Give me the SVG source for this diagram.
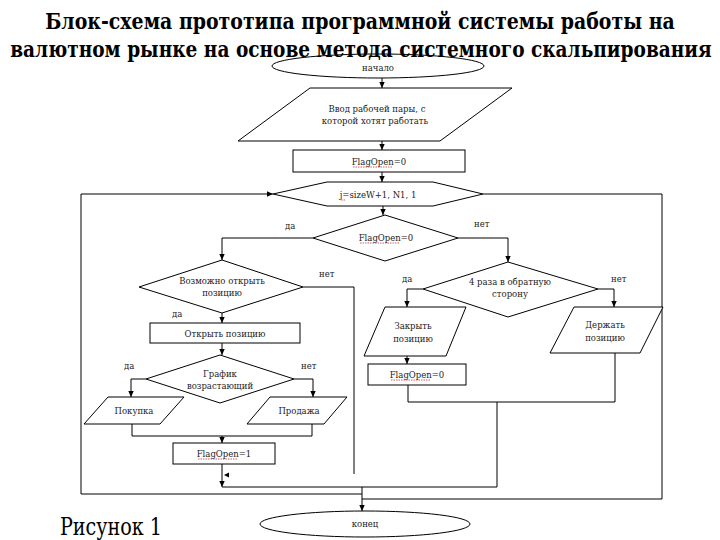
<svg xmlns="http://www.w3.org/2000/svg" width="720" height="540" viewBox="0 0 720 540">
<style>
.s{fill:#fff;stroke:#000;stroke-width:1}
.c{fill:none;stroke:#000;stroke-width:1}
.t{font-family:"DejaVu Serif","Liberation Serif",serif;font-size:8.5px;fill:#222;text-anchor:middle}
.l{font-family:"DejaVu Serif","Liberation Serif",serif;font-size:8.5px;fill:#222}
.sq{stroke:#c33;stroke-width:0.8;stroke-dasharray:1.5 1;fill:none}
.title{font-family:"DejaVu Serif","Liberation Serif",serif;font-size:23px;font-weight:bold;fill:#000;text-anchor:middle}
.fig{font-family:"DejaVu Serif","Liberation Serif",serif;font-size:24px;fill:#000}
</style>
<defs>
<marker id="ah" viewBox="0 0 10 10" refX="10" refY="5" markerWidth="7" markerHeight="6" markerUnits="userSpaceOnUse" orient="auto"><path d="M0,0.5 L10,5 L0,9.5 z" fill="#000"/></marker>
</defs>
<rect width="720" height="540" fill="#fff"/>

<g id="connectors">
<path class="c" d="M382,78 V88" marker-end="url(#ah)"/>
<path class="c" d="M382,141 V150" marker-end="url(#ah)"/>
<path class="c" d="M382,172 V182" marker-end="url(#ah)"/>
<path class="c" d="M383,206 V215" marker-end="url(#ah)"/>
<path class="c" d="M313,238 H222 V260" marker-end="url(#ah)"/>
<path class="c" d="M458,238 H508 V262" marker-end="url(#ah)"/>
<path class="c" d="M303,287 H354 V474"/>
<path class="c" d="M222,313 V323" marker-end="url(#ah)"/>
<path class="c" d="M222,343 V355" marker-end="url(#ah)"/>
<path class="c" d="M146,379 H131 V397" marker-end="url(#ah)"/>
<path class="c" d="M294,379 H313 V397" marker-end="url(#ah)"/>
<path class="c" d="M132,424 V436 H312 V424"/>
<path class="c" d="M222,436 V443" marker-end="url(#ah)"/>
<path class="c" d="M222,464 V487" marker-end="url(#ah)"/>
<polygon points="224,475 229,472.5 229,477.5" fill="#000"/>
<path class="c" d="M222,487 H497 V402"/>
<path class="c" d="M408,385 V402 H615 V353"/>
<path class="c" d="M423,289 H407 V307" marker-end="url(#ah)"/>
<path class="c" d="M598,289 H614 V307" marker-end="url(#ah)"/>
<path class="c" d="M407,356 V364" marker-end="url(#ah)"/>
<path class="c" d="M362,487 V511" marker-end="url(#ah)"/>
<path class="c" d="M362,494 H81 V194 H273" marker-end="url(#ah)"/>
<path class="c" d="M483,194 H662 V499 H362"/>
</g>

<g id="start">
<ellipse class="s" cx="378" cy="66" rx="106" ry="12"/>
<text class="t" x="378" y="71">начало</text>
</g>
<g id="input">
<polygon class="s" points="310,88 512,88 440,141 238,141"/>
<text class="t" x="377" y="112">Ввод рабочей пары, с</text>
<text class="t" x="375" y="124">которой хотят работать</text>
</g>
<g id="init">
<rect class="s" x="293" y="150" width="172" height="22"/>
<text class="t" x="379" y="165">FlagOpen=0</text>
<path class="sq" d="M353,167 H392"/>
</g>
<g id="loop">
<polygon class="s" points="273,194 327,182 433,182 483,194 433,206 327,206"/>
<text class="t" x="378" y="198">j=sizeW+1, N1, 1</text>
<path class="sq" d="M341,200 H345"/>
</g>
<g id="check-flag">
<polygon class="s" points="385,215 458,238 385,261 313,238"/>
<text class="t" x="386" y="241">FlagOpen=0</text>
<path class="sq" d="M360,243 H399"/>
</g>
<g id="can-open">
<polygon class="s" points="222,260 303,287 222,313 139,287"/>
<text class="t" x="222" y="284">Возможно открыть</text>
<text class="t" x="222" y="296">позицию</text>
</g>
<g id="open">
<rect class="s" x="150" y="323" width="150" height="20"/>
<text class="t" x="225" y="337">Открыть позицию</text>
</g>
<g id="trend">
<polygon class="s" points="220,355 294,379 220,403 146,379"/>
<text class="t" x="220" y="377">График</text>
<text class="t" x="220" y="389">возрастающий</text>
</g>
<g id="buy">
<polygon class="s" points="108,397 184,397 160,424 84,424"/>
<text class="t" x="134" y="414">Покупка</text>
</g>
<g id="sell">
<polygon class="s" points="270,397 347,397 324,424 247,424"/>
<text class="t" x="299" y="414">Продажа</text>
</g>
<g id="flag1">
<rect class="s" x="173" y="443" width="102" height="21"/>
<text class="t" x="224" y="457">FlagOpen=1</text>
<path class="sq" d="M198,459 H237"/>
</g>
<g id="reverse">
<polygon class="s" points="508,262 598,289 508,317 423,289"/>
<text class="t" x="510" y="285">4 раза в обратную</text>
<text class="t" x="510" y="297">сторону</text>
</g>
<g id="close">
<polygon class="s" points="385,307 466,307 446,356 364,356"/>
<text class="t" x="413" y="329">Закрыть</text>
<text class="t" x="413" y="342">позицию</text>
</g>
<g id="flag0b">
<rect class="s" x="368" y="364" width="98" height="21"/>
<text class="t" x="417" y="378">FlagOpen=0</text>
<path class="sq" d="M391,380 H430"/>
</g>
<g id="hold">
<polygon class="s" points="574,307 663,307 640,353 550,353"/>
<text class="t" x="605" y="328">Держать</text>
<text class="t" x="605" y="341">позицию</text>
</g>
<g id="end">
<ellipse class="s" cx="365" cy="524" rx="105" ry="13"/>
<text class="t" x="365" y="527">конец</text>
</g>

<g id="labels">
<text class="l" x="285" y="229">да</text>
<text class="l" x="474" y="227">нет</text>
<text class="l" x="319" y="277">нет</text>
<text class="l" x="402" y="282">да</text>
<text class="l" x="611" y="282">нет</text>
<text class="l" x="172" y="317">да</text>
<text class="l" x="124" y="369">да</text>
<text class="l" x="301" y="369">нет</text>
</g>

<g id="title">
<text class="title" transform="translate(360,29) scale(0.8,1)" x="0" y="0" textLength="787" lengthAdjust="spacingAndGlyphs">Блок-схема прототипа программной системы работы на</text>
<text class="title" transform="translate(361,57) scale(0.8,1)" x="0" y="0" textLength="877" lengthAdjust="spacingAndGlyphs">валютном рынке на основе метода системного скальпирования</text>
</g>
<text class="fig" x="60" y="535" textLength="102" lengthAdjust="spacingAndGlyphs">Рисунок 1</text>
</svg>
